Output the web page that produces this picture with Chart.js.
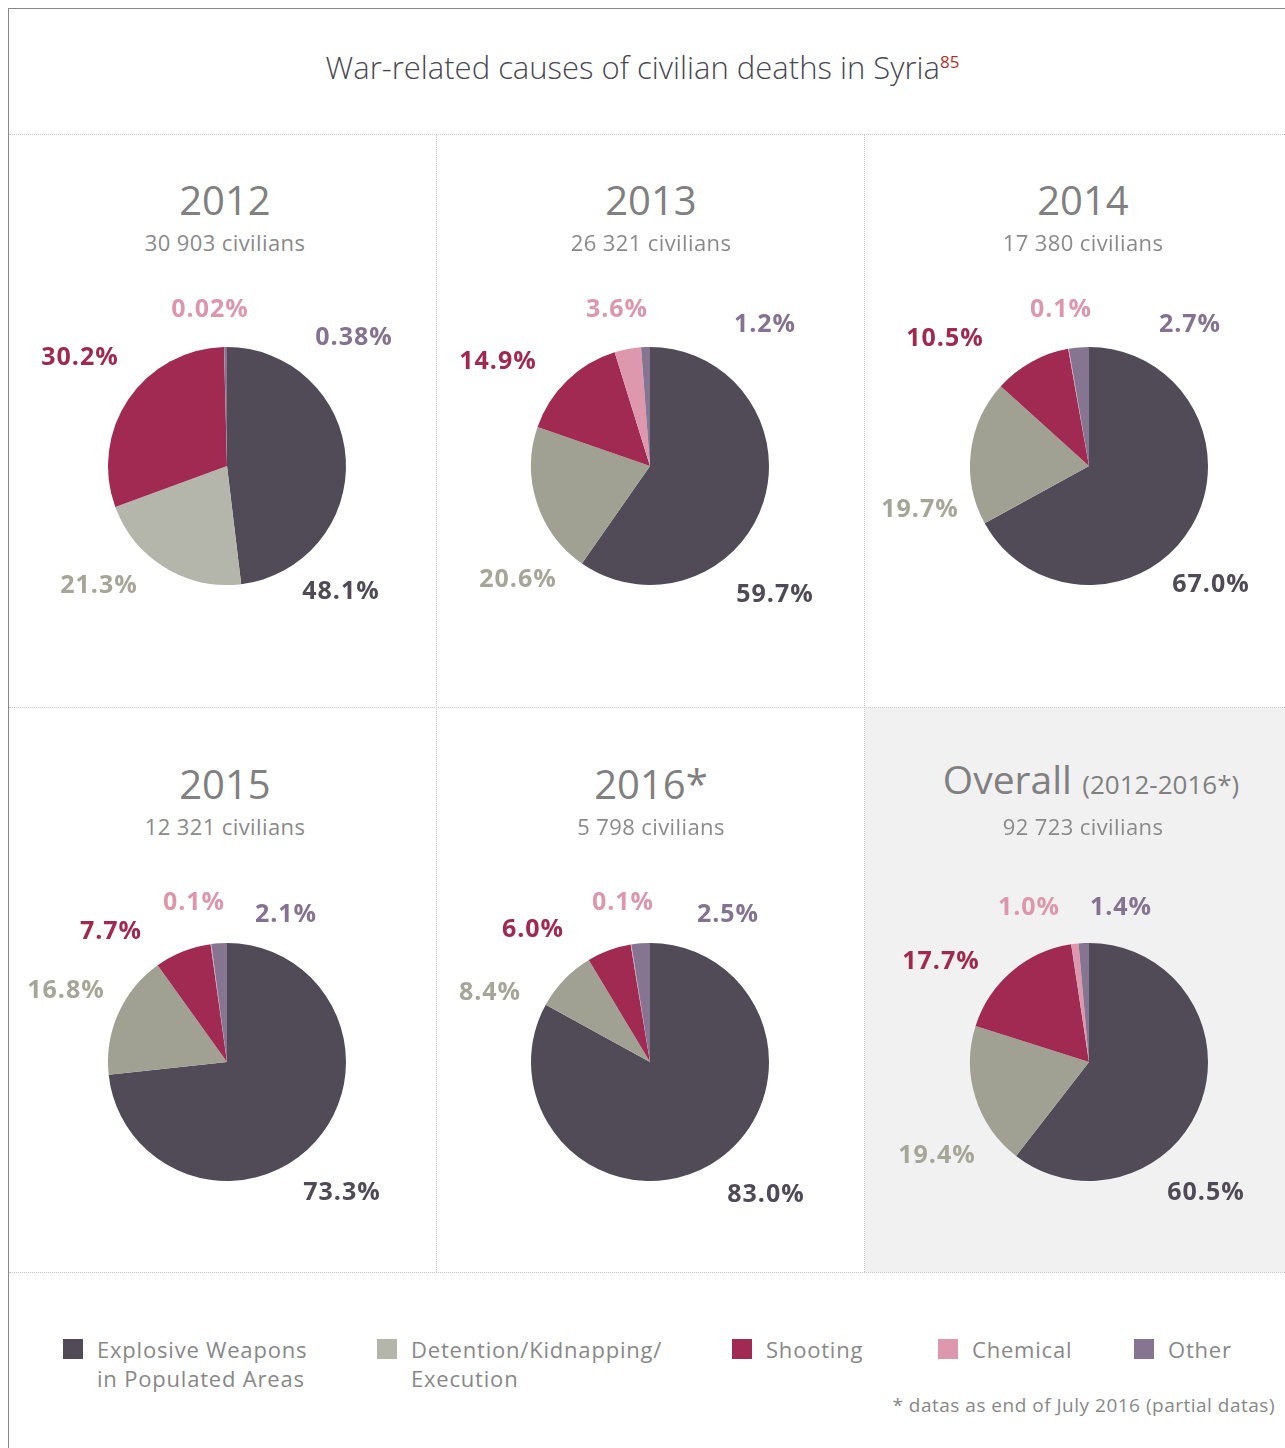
<!DOCTYPE html>
<html>
<head>
<meta charset="utf-8">
<script src="https://cdn.jsdelivr.net/npm/chart.js@4.4.1/dist/chart.umd.min.js"></script>
<style>
  html, body { margin: 0; padding: 0; background: #fff; }
  body { width: 1285px; height: 1448px; overflow: hidden; position: relative; font-family: "Open Sans", sans-serif; }
  .frame-top { position: absolute; left: 8px; top: 8px; width: 1277px; border-top: 1px solid #888; }
  .frame-left { position: absolute; left: 8px; top: 8px; height: 1440px; border-left: 1px solid #888; }
  .hdot { position: absolute; left: 9px; width: 1276px; border-top: 1px dotted #c8c8c8; }
  .vdot { position: absolute; border-left: 1px dotted #c8c8c8; }
  .overall-bg { position: absolute; left: 865px; top: 708px; width: 420px; height: 564px; background: #f1f1f1; }
  .title { position: absolute; left: 0; width: 1285px; top: 46px; text-align: center; font-size: 31px; font-weight: 300; color: #4a4852; letter-spacing: 0; }
  .title sup { color: #b0302a; font-size: 17px; font-weight: 400; vertical-align: 11px; letter-spacing: 0; }
  .year { position: absolute; width: 428px; text-align: center; font-size: 40px; color: #808080; line-height: 1; }
  .year small { font-size: 26px; }
  .civ { position: absolute; width: 428px; text-align: center; font-size: 22px; color: #8a8a8a; line-height: 1; letter-spacing: 0.4px; }
  canvas.pie { position: absolute; }
  .legend { position: absolute; top: 1335px; font-size: 22px; color: #888; line-height: 29px; letter-spacing: 0.8px; }
  .legend i { position: absolute; left: 0; top: 4px; width: 20px; height: 20px; }
  .legend span { display: block; margin-left: 34px; }
  .note { position: absolute; right: 10px; top: 1392px; font-size: 19px; color: #888; letter-spacing: 0.5px; }
</style>
</head>
<body>
<div class="overall-bg"></div>
<div class="frame-top"></div>
<div class="frame-left"></div>
<div class="hdot" style="top:134px"></div>
<div class="hdot" style="top:707px"></div>
<div class="hdot" style="top:1272px"></div>
<div class="vdot" style="left:436px; top:135px; height:1137px"></div>
<div class="vdot" style="left:864px; top:135px; height:1137px"></div>
<div class="title">War-related causes of civilian deaths in Syria<sup>85</sup></div>
<div id="panels"></div>
<div id="legend"></div>
<div class="note">* datas as end of July 2016 (partial datas)</div>

<script>
// data
const categories = ['Explosive Weapons in Populated Areas', 'Detention/Kidnapping/Execution', 'Shooting', 'Chemical', 'Other'];
const years = ['2012', '2013', '2014', '2015', '2016*', 'Overall'];
const civilians = ['30 903', '26 321', '17 380', '12 321', '5 798', '92 723'];
const explosive = [48.1, 59.7, 67.0, 73.3, 83.0, 60.5];
const detention = [21.3, 20.6, 19.7, 16.8, 8.4, 19.4];
const shooting = [30.2, 14.9, 10.5, 7.7, 6.0, 17.7];
const chemical = [0.02, 3.6, 0.1, 0.1, 0.1, 1.0];
const other = [0.38, 1.2, 2.7, 2.1, 2.5, 1.4];

// styling / layout
const sliceColors = ['#514a57', '#a1a193', '#a02a52', '#dd98ae', '#857591'];
const labelColors = ['#4f4a56', '#a6a698', '#a0294f', '#dc97ad', '#857291'];
const legendColors = ['#514a57', '#b5b6aa', '#a02a52', '#dd98ae', '#857591'];
const centers = [[227, 466], [650, 466], [1089, 466], [227, 1062], [650, 1062], [1089, 1062]];
const panelLeft = [11, 437, 869, 11, 437, 877];
const radius = 119;
// label offsets from the pie centre, one row per chart, in category order
const labelOffsets = [
  [[114, 126], [-128, 120], [-147, -108], [-17, -156], [127, -128]],
  [[125, 129], [-132, 114], [-152, -104], [-33, -156], [115, -141]],
  [[122, 119], [-169, 44], [-144, -127], [-28, -156], [101, -141]],
  [[115, 131], [-161, -71], [-116, -130], [-33, -159], [59, -147]],
  [[116, 133], [-160, -69], [-117, -132], [-27, -159], [78, -147]],
  [[117, 131], [-152, 94], [-148, -100], [-60, -154], [32, -154]]
];

function pct(v) {
  let s = String(v);
  if (s.indexOf('.') < 0) s += '.0';
  return s + '%';
}

const pctLabels = {
  id: 'pctLabels',
  afterDraw(chart, args, opts) {
    const ctx = chart.ctx;
    const arc = chart.getDatasetMeta(0).data[0];
    const vals = chart.data.datasets[0].data;
    ctx.save();
    ctx.font = '700 25px "Open Sans"';
    ctx.letterSpacing = '1px';
    ctx.textAlign = 'center';
    ctx.textBaseline = 'middle';
    vals.forEach((v, i) => {
      const off = opts.offsets[i];
      ctx.fillStyle = labelColors[i];
      ctx.fillText(pct(v), arc.x + off[0], arc.y + off[1]);
    });
    ctx.restore();
  }
};

const panels = document.getElementById('panels');
const size = 440;
const pad = (size - radius * 2) / 2;

years.forEach((yr, k) => {
  const top = k < 3 ? 180 : 764;
  const y = document.createElement('div');
  y.className = 'year';
  y.style.left = panelLeft[k] + 'px';
  y.style.top = (yr === 'Overall' ? top - 5 : top) + 'px';
  if (yr === 'Overall') {
    y.innerHTML = '<span style="font-weight:500;font-size:39px">Overall</span> <small>(2012-2016*)</small>';
  } else {
    y.textContent = yr;
  }
  panels.appendChild(y);

  const c = document.createElement('div');
  c.className = 'civ';
  c.style.left = (k % 3 === 2 ? 869 : panelLeft[k]) + 'px';
  c.style.top = (top + 51) + 'px';
  c.textContent = civilians[k] + ' civilians';
  panels.appendChild(c);

  const cv = document.createElement('canvas');
  cv.className = 'pie';
  cv.width = size; cv.height = size;
  cv.style.width = size + 'px'; cv.style.height = size + 'px';
  cv.style.left = (centers[k][0] - size / 2) + 'px';
  cv.style.top = (centers[k][1] - size / 2) + 'px';
  panels.appendChild(cv);

  const colors = sliceColors.slice();
  if (k === 0) colors[1] = '#b5b6ab';

  new Chart(cv.getContext('2d'), {
    type: 'pie',
    data: {
      labels: categories,
      datasets: [{
        data: [explosive[k], detention[k], shooting[k], chemical[k], other[k]],
        backgroundColor: colors,
        borderWidth: 0
      }]
    },
    options: {
      responsive: false,
      animation: false,
      layout: { padding: pad },
      plugins: {
        legend: { display: false },
        tooltip: { enabled: false },
        pctLabels: { offsets: labelOffsets[k] }
      }
    },
    plugins: [pctLabels]
  });
});

// shared legend
const legendX = [63, 377, 732, 938, 1134];
const legendText = ['Explosive Weapons<br>in Populated Areas', 'Detention/Kidnapping/<br>Execution', 'Shooting', 'Chemical', 'Other'];
const legend = document.getElementById('legend');
categories.forEach((cat, i) => {
  const d = document.createElement('div');
  d.className = 'legend';
  d.style.left = legendX[i] + 'px';
  d.innerHTML = '<i style="background:' + legendColors[i] + '"></i><span>' + legendText[i] + '</span>';
  legend.appendChild(d);
});
</script>
</body>
</html>
